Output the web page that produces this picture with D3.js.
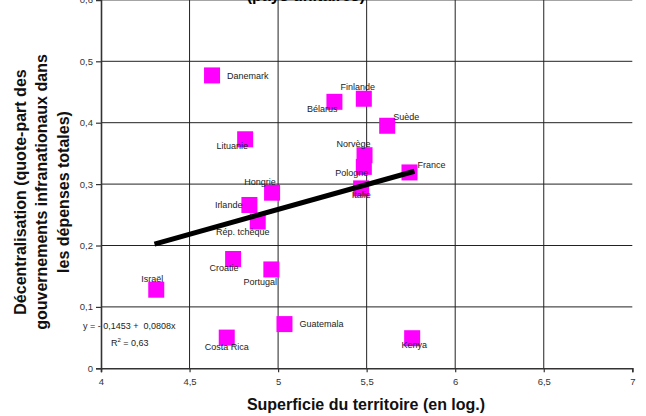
<!DOCTYPE html>
<html>
<head>
<meta charset="utf-8">
<title>Décentralisation et superficie</title>
<script src="https://d3js.org/d3.v7.min.js"></script>
<style>
  body { margin: 0; padding: 0; background: #fff; }
  text { font-family: "Liberation Sans", Arial, sans-serif; }
</style>
</head>
<body>
<div id="my_dataviz"></div>
<script>
// data
var countries = ["Danemark", "Lituanie", "Bélarus", "Finlande", "Suède", "Norvège", "Pologne",
  "France", "Italie", "Hongrie", "Irlande", "Rép. tchèque", "Croatie", "Portugal", "Israël",
  "Costa Rica", "Guatemala", "Kenya"];
var superficie = [4.627, 4.814, 5.318, 5.484, 5.616, 5.488, 5.484,
  5.742, 5.469, 4.966, 4.838, 4.885, 4.746, 4.962, 4.312,
  4.710, 5.036, 5.757];
var decentral = [0.477, 0.373, 0.434, 0.439, 0.395, 0.347, 0.328,
  0.319, 0.293, 0.286, 0.266, 0.239, 0.178, 0.161, 0.128,
  0.050, 0.072, 0.049];
var xTicks = [4, 4.5, 5, 5.5, 6, 6.5, 7];
var yTicks = [0, 0.1, 0.2, 0.3, 0.4, 0.5, 0.6];
var fit = { a: -0.1453, b: 0.0808 };

// label placement (dx, dy, anchor) relative to the marker
var labelPos = {
  "Danemark": [15, 0, "start"], "Lituanie": [-13, 7, "middle"], "Bélarus": [3, 7, "end"],
  "Finlande": [-6, -12, "middle"], "Suède": [6, -9, "start"], "Norvège": [-11, -11, "middle"],
  "Pologne": [-12, 6, "middle"], "France": [8, -8, "start"], "Italie": [0, 6, "middle"],
  "Hongrie": [-12, -11, "middle"], "Irlande": [-7, 0, "end"], "Rép. tchèque": [-15, 10, "middle"],
  "Croatie": [-9, 9, "middle"], "Portugal": [-11, 12, "middle"], "Israël": [-4, -11, "middle"],
  "Costa Rica": [0, 9, "middle"], "Guatemala": [15, 0, "start"], "Kenya": [2, 7, "middle"]
};

var width = 646, height = 416;
var svg = d3.select("#my_dataviz").append("svg")
  .attr("width", width).attr("height", height);

var x = d3.scaleLinear().domain([4, 7]).range([101, 632.3]);
var y = d3.scaleLinear().domain([0, 0.6]).range([368.3, -0.1]);
var fmt = function(d) { return String(d).replace(".", ","); };

// grid
svg.append("g").selectAll("line").data(yTicks.slice(1)).enter().append("line")
  .attr("x1", x(4)).attr("x2", x(7))
  .attr("y1", function(d) { return y(d); }).attr("y2", function(d) { return y(d); })
  .attr("stroke", "#222").attr("stroke-width", 1);
svg.append("g").selectAll("line").data(xTicks.slice(1, -1)).enter().append("line")
  .attr("x1", function(d) { return x(d); }).attr("x2", function(d) { return x(d); })
  .attr("y1", y(0)).attr("y2", y(0.6))
  .attr("stroke", "#222").attr("stroke-width", 1);

// axes
var xAxis = svg.append("g")
  .attr("transform", "translate(0," + y(0) + ")")
  .call(d3.axisBottom(x).tickValues(xTicks).tickFormat(fmt).tickSize(4).tickPadding(6));
var yAxis = svg.append("g")
  .attr("transform", "translate(" + x(4) + ",0)")
  .call(d3.axisLeft(y).tickValues(yTicks).tickFormat(fmt).tickSize(5).tickPadding(3));
[xAxis, yAxis].forEach(function(a) {
  a.select(".domain").attr("stroke", "#333").attr("stroke-width", 1.6);
  a.selectAll(".tick line").attr("stroke", "#333").attr("stroke-width", 1.2);
  a.selectAll(".tick text").attr("fill", "#333").style("font-size", "9.5px")
    .style("font-family", "'Liberation Sans', Arial, sans-serif");
});

// points
var pts = countries.map(function(c, i) { return { name: c, x: superficie[i], y: decentral[i] }; });
svg.append("g").selectAll("rect").data(pts).enter().append("rect")
  .attr("x", function(d) { return x(d.x) - 8; })
  .attr("y", function(d) { return y(d.y) - 8; })
  .attr("width", 16).attr("height", 16)
  .attr("fill", "#ff00ff");

// regression line
var ext = d3.extent(superficie);
svg.append("line")
  .attr("x1", x(ext[0] - 0.01)).attr("y1", y(fit.a + fit.b * (ext[0] - 0.01)))
  .attr("x2", x(ext[1] + 0.013)).attr("y2", y(fit.a + fit.b * (ext[1] + 0.013)))
  .attr("stroke", "#000").attr("stroke-width", 5);

// labels
svg.append("g").selectAll("text").data(pts).enter().append("text")
  .attr("x", function(d) { return x(d.x) + labelPos[d.name][0]; })
  .attr("y", function(d) { return y(d.y) + labelPos[d.name][1]; })
  .attr("dy", "0.35em")
  .attr("text-anchor", function(d) { return labelPos[d.name][2]; })
  .attr("fill", "#222").style("font-size", "9px")
  .text(function(d) { return d.name; });

// equation
svg.append("text").attr("x", 83).attr("y", 328.5).attr("fill", "#222").style("font-size", "9px")
  .attr("xml:space", "preserve")
  .text("y = - 0,1453 +  0,0808x");
var r2 = svg.append("text").attr("x", 111).attr("y", 346).attr("fill", "#222").style("font-size", "9px");
r2.append("tspan").text("R");
r2.append("tspan").attr("dy", -4).style("font-size", "6px").text("2");
r2.append("tspan").attr("dy", 4).text(" = 0,63");

// titles (top title is cut off by the frame, only its bottom edge shows)
svg.append("text").attr("x", 365).attr("y", 0.5).attr("text-anchor", "end")
  .style("font-size", "16px").style("font-weight", "bold").text("(pays unitaires)");

svg.append("text").attr("x", 366).attr("y", 410).attr("text-anchor", "middle")
  .style("font-size", "16px").style("font-weight", "bold").attr("fill", "#111")
  .text("Superficie du territoire (en log.)");

var yt = svg.append("text").attr("transform", "translate(20,192) rotate(-90)")
  .attr("text-anchor", "middle").style("font-size", "16px").style("font-weight", "bold")
  .attr("fill", "#111");
["Décentralisation (quote-part des", "gouvernements infranationaux dans", "les dépenses totales)"]
  .forEach(function(t, i) {
    yt.append("tspan").attr("x", 0).attr("y", i * 21.7).attr("dy", "0.35em").text(t);
  });
</script>
</body>
</html>
